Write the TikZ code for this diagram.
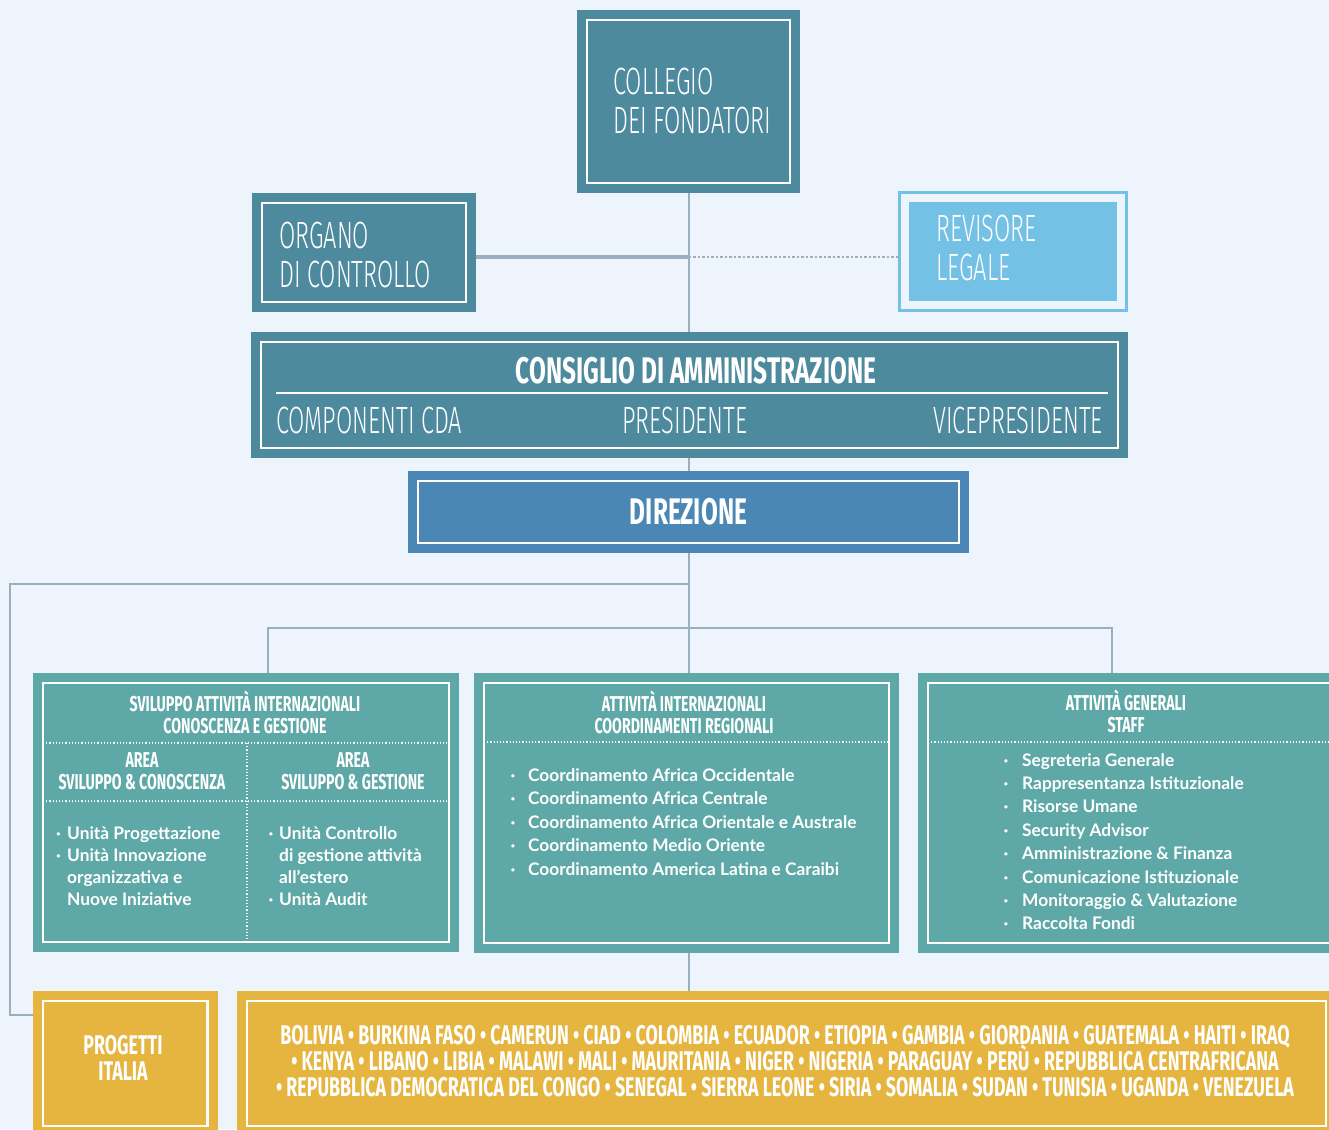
\documentclass[tikz,border=0pt]{standalone}
\usepackage{fontspec}
\setmainfont{Lato}
\newfontfamily\bebas[FakeStretch=0.66]{Fira Sans}
\newfontfamily\bebaslight[FakeStretch=0.62]{Fira Sans Light}
\usetikzlibrary{positioning}
\usetikzlibrary{backgrounds}

\definecolor{bgcol}{HTML}{EDF4FC}
\definecolor{petrol}{HTML}{4E8A9E}
\definecolor{dirblue}{HTML}{4A87B4}
\definecolor{skyblue}{HTML}{74C1E6}
\definecolor{panelteal}{HTML}{5EA9A7}
\definecolor{gold}{HTML}{E6B540}
\definecolor{linkgray}{HTML}{9BB0BE}

\newcommand{\dotitem}[1][11pt]{\makebox[#1][l]{·}}
\newcommand{\paesifont}{\bebas\bfseries\fontsize{27}{26}\selectfont\lineskiplimit=-20pt\relax}

\tikzset{
  framed/.style={fill=#1, draw=white, line width=2.5pt, inner sep=0pt, text=white,
    preaction={draw=#1, line width=20pt}},
  revbox/.style={fill=skyblue, draw=skyblue, line width=3pt, double=bgcol,
    double distance=8pt, inner sep=0pt, text=white},
  link/.style={draw=linkgray, line width=2pt},
  sep/.style={draw=white, line width=1.2pt, dotted},
  lighttxt/.style={text=white, inner sep=0pt, align=left,
    font=\bebaslight\fontsize{38}{39}\selectfont},
  boldtxt/.style={text=white, inner sep=0pt, font=\bebas\bfseries\fontsize{37}{40}\selectfont},
  ptitle/.style={text=white, inner sep=0pt, align=center,
    font=\bebas\bfseries\fontsize{21.5}{22}\selectfont},
  lst/.style={text=white, inner sep=0pt, align=left, anchor=north west,
    font=\bfseries\fontsize{17.3}{#1}\selectfont},
  lst/.default=22
}

\begin{document}
\begin{tikzpicture}[x=1pt,y=-1pt]
  \useasboundingbox (0,0) rectangle (1329,1129);
  \clip (0,0) rectangle (1329,1129);

  % vertici
  \node[framed=petrol, minimum width=203, minimum height=163] (coll) at (688.5,101.5) {};
  \node[lighttxt, anchor=west] (collt) at (613,100.5) {COLLEGIO\\DEI FONDATORI};
  \node[framed=petrol, minimum width=204, minimum height=99] (org) at (364,252.5) {};
  \node[lighttxt, anchor=west] (orgt) at (279,254.5) {ORGANO\\DI CONTROLLO};
  \node[revbox, minimum width=216, minimum height=107] (rev) at (1013,251.5) {};
  \node[lighttxt, anchor=west] (revt) at (936,248) {REVISORE\\LEGALE};

  % consiglio
  \node[framed=petrol, minimum width=857, minimum height=106] (cda) at (689.5,395) {};
  \node[boldtxt, anchor=base] (cdat) at (696,383) {CONSIGLIO DI AMMINISTRAZIONE};
  \draw[white, line width=2.5pt] (276,393) -- (1108,393);
  \node[lighttxt, anchor=base west] (comp) at (276,433) {COMPONENTI CDA};
  \node[lighttxt, anchor=base] (pres) at (685,433) {PRESIDENTE};
  \node[lighttxt, anchor=base east] (vice) at (1103,433) {VICEPRESIDENTE};

  \node[framed=dirblue, minimum width=541, minimum height=62, boldtxt] (dir) at (688.5,512) {DIREZIONE};

  % aree
  \node[framed=panelteal, minimum width=406, minimum height=259] (sv) at (246,812.5) {};
  \node[framed=panelteal, minimum width=405, minimum height=260] (coord) at (686.5,813) {};
  \node[framed=panelteal, minimum width=412, minimum height=260] (staff) at (1134,813) {};

  \node[ptitle] (svt) at (245,712) {SVILUPPO ATTIVITÀ INTERNAZIONALI\\CONOSCENZA E GESTIONE};
  \node[ptitle] (coordt) at (684,712) {ATTIVITÀ INTERNAZIONALI\\COORDINAMENTI REGIONALI};
  \node[ptitle] (stafft) at (1126,711) {ATTIVITÀ GENERALI\\STAFF};

  \draw[sep] (43,743) -- (449,743);
  \draw[sep] (43,801) -- (449,801);
  \draw[sep] (247,743) -- (247,942);
  \draw[sep] (484,742) -- (889,742);
  \draw[sep] (928,742) -- (1329,742);

  \node[ptitle] (sca) at (142,771) {AREA\\SVILUPPO \& CONOSCENZA};
  \node[ptitle] (sga) at (353,771) {AREA\\SVILUPPO \& GESTIONE};

  \node[lst] (scl) at (56,826) {\dotitem Unità Progettazione\\
    \dotitem Unità Innovazione\\
    \hspace*{11pt}organizzativa e\\
    \hspace*{11pt}Nuove Iniziative};
  \node[lst] (sgl) at (268.5,826) {\dotitem[10.5pt]Unità Controllo\\
    \hspace*{10.5pt}di gestione attività\\
    \hspace*{10.5pt}all'estero\\
    \dotitem[10.5pt]Unità Audit};
  \node[lst=23.5] (coordl) at (510.5,768) {\dotitem[17.5pt]Coordinamento Africa Occidentale\\
    \dotitem[17.5pt]Coordinamento Africa Centrale\\
    \dotitem[17.5pt]Coordinamento Africa Orientale e Australe\\
    \dotitem[17.5pt]Coordinamento Medio Oriente\\
    \dotitem[17.5pt]Coordinamento America Latina e Caraibi};
  \node[lst=23.4] (staffl) at (1003.5,753) {\dotitem[18.5pt]Segreteria Generale\\
    \dotitem[18.5pt]Rappresentanza Istituzionale\\
    \dotitem[18.5pt]Risorse Umane\\
    \dotitem[18.5pt]Security Advisor\\
    \dotitem[18.5pt]Amministrazione \& Finanza\\
    \dotitem[18.5pt]Comunicazione Istituzionale\\
    \dotitem[18.5pt]Monitoraggio \& Valutazione\\
    \dotitem[18.5pt]Raccolta Fondi};

  % progetti
  \node[framed=gold, minimum width=164.5, minimum height=125] (ita) at (125.25,1063.5) {};
  \node[ptitle, font=\bebas\bfseries\fontsize{27}{25.5}\selectfont] (itat) at (123,1058) {PROGETTI\\ITALIA};
  \node[framed=gold, minimum width=1079, minimum height=125] (paesi) at (786.5,1063.5) {};
  \node[ptitle, font=\paesifont] (paesit) at (785,1061)
    {BOLIVIA • BURKINA FASO • CAMERUN • CIAD • COLOMBIA • ECUADOR • ETIOPIA • GAMBIA • GIORDANIA • GUATEMALA • HAITI • IRAQ\\
     • KENYA • LIBANO • LIBIA • MALAWI • MALI • MAURITANIA • NIGER • NIGERIA • PARAGUAY • PERÙ • REPUBBLICA CENTRAFRICANA\\
     • REPUBBLICA DEMOCRATICA DEL CONGO • SENEGAL • SIERRA LEONE • SIRIA • SOMALIA • SUDAN • TUNISIA • UGANDA • VENEZUELA};

  % collegamenti
  \coordinate (oj) at (688.5,257);
  \coordinate (lj) at (10,584);
  \coordinate (lb) at (10,1015);
  \coordinate (bl) at (268,628);
  \coordinate (br) at (1112,628);
  \begin{pgfonlayer}{background}
    \fill[bgcol] (0,0) rectangle (1329,1129);
    \draw[link] (coll) -- (coll |- paesi.north);
    \draw[link, line width=4pt] (oj -| org) -- (oj);
    \draw[link, line width=2.5pt, dotted] (oj) -- (oj -| rev.west);
    \draw[link] (coll |- lj) -- (lj) -- (lb) -- (lb -| ita);
    \draw[link] (bl |- sv.north) -- (bl) -- (br) -- (br |- staff.north);
  \end{pgfonlayer}
\end{tikzpicture}
\end{document}
